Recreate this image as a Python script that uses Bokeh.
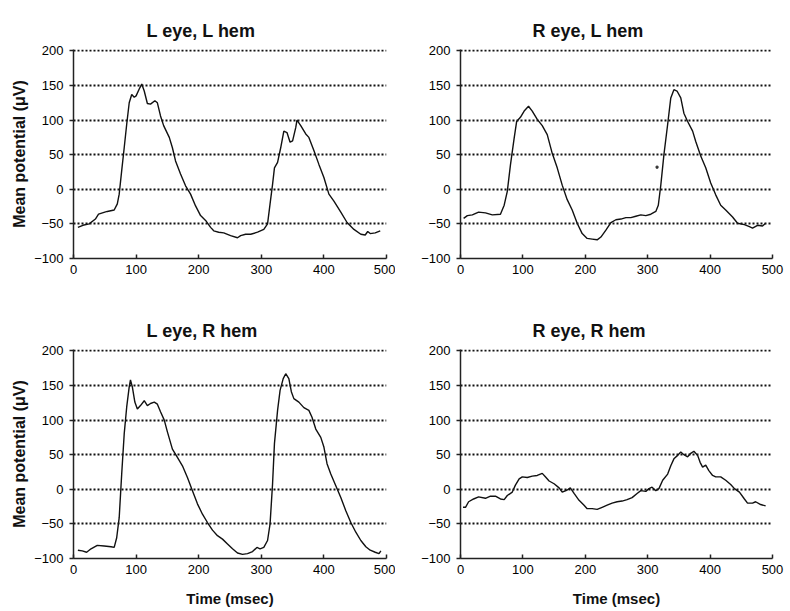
from bokeh.plotting import figure
from bokeh.layouts import column, row
from bokeh.models import Range1d, FixedTicker, LinearAxis, Title
from bokeh.embed import file_html
from bokeh.resources import INLINE

# ---- data (time in msec, mean potential in microvolts) ----
ll_t = [7, 15, 25, 35, 40, 50, 54, 65, 70, 73, 77, 81, 85, 89, 93, 97, 100, 105, 109, 113,
        118, 123, 130, 134, 139, 144, 153, 158, 163, 171, 179, 187, 195, 203, 211, 219, 224,
        232, 240, 251, 262, 267, 275, 283, 294, 304, 310, 314, 318, 321, 326, 331, 336, 341,
        346, 350, 355, 357, 363, 371, 376, 384, 392, 400, 408, 416, 427, 437, 448, 459, 466,
        470, 474, 482, 490]
ll_v = [-55, -52, -50, -43, -36, -33, -32, -30, -21, -7, 27, 60, 94, 125, 137, 133, 135, 145,
        152, 142, 124, 123, 128, 125, 106, 92, 75, 60, 41, 22, 5, -7, -24, -38, -45, -55, -60,
        -62, -63, -67, -70, -67, -65, -65, -62, -58, -50, -21, 7, 31, 39, 60, 84, 82, 68, 70,
        89, 100, 92, 80, 75, 56, 36, 17, -7, -17, -33, -48, -58, -65, -66, -61, -64, -63, -60]

rl_t = [5, 11, 19, 29, 40, 51, 64, 70, 75, 80, 86, 90, 96, 102, 109, 115, 123, 131, 139, 147,
        155, 163, 171, 179, 187, 195, 203, 211, 219, 225, 233, 241, 249, 257, 265, 273, 281,
        289, 297, 305, 313, 317, 321, 326, 332, 337, 342, 347, 353, 358, 364, 372, 377, 385,
        393, 401, 409, 417, 425, 436, 444, 455, 463, 468, 476, 484, 489]
rl_v = [-42, -38, -37, -33, -34, -37, -36, -23, -3, 35, 74, 98, 104, 113, 120, 113, 101, 92, 79,
        52, 31, 6, -15, -30, -49, -64, -71, -72, -73, -69, -59, -48, -44, -43, -41, -41, -39,
        -37, -38, -36, -32, -23, 6, 50, 94, 132, 144, 142, 132, 110, 98, 84, 69, 48, 31, 9,
        -8, -23, -30, -40, -49, -51, -54, -56, -52, -53, -49]
rl_speck_t = [315]
rl_speck_v = [32]

lr_t = [7, 14, 21, 28, 38, 49, 60, 65, 69, 73, 77, 81, 85, 89, 91, 94, 98, 102, 107, 113, 118,
        123, 129, 134, 139, 145, 150, 158, 166, 174, 182, 190, 198, 206, 214, 222, 230, 238,
        246, 254, 262, 270, 278, 286, 293, 298, 304, 310, 314, 318, 321, 326, 330, 335, 339,
        344, 348, 352, 360, 368, 376, 381, 387, 395, 400, 405, 411, 419, 427, 435, 443, 451,
        459, 467, 474, 482, 488, 491]
lr_v = [-88, -89, -91, -86, -81, -82, -83, -84, -70, -41, 22, 80, 119, 148, 158, 148, 126, 116,
        121, 128, 121, 124, 126, 123, 112, 100, 83, 58, 46, 34, 17, -2, -21, -36, -48, -59, -67,
        -72, -79, -86, -92, -94, -93, -90, -84, -86, -84, -74, -50, 8, 66, 114, 143, 160, 167,
        160, 141, 131, 126, 118, 114, 104, 87, 75, 61, 37, 22, 5, -12, -31, -48, -62, -74, -83,
        -88, -91, -93, -89]

rr_t = [4, 8, 13, 21, 29, 40, 48, 56, 64, 70, 75, 83, 88, 94, 99, 107, 115, 123, 131, 136, 142,
        150, 158, 163, 171, 176, 182, 190, 198, 203, 211, 219, 227, 235, 243, 251, 259, 267,
        275, 283, 289, 297, 302, 307, 313, 318, 324, 332, 337, 342, 348, 353, 358, 364, 369,
        374, 380, 384, 388, 393, 398, 404, 409, 417, 425, 433, 439, 447, 455, 460, 468, 473,
        481, 489]
rr_v = [-26, -26, -18, -14, -11, -13, -10, -10, -14, -15, -9, -4, 6, 15, 18, 17, 19, 20, 23, 18,
        12, 8, 2, -4, -1, 2, -6, -16, -23, -28, -28, -29, -26, -23, -20, -18, -17, -15, -12, -6,
        -2, -3, 1, 3, -2, 1, 13, 22, 34, 44, 49, 54, 50, 47, 52, 55, 49, 39, 32, 35, 27, 20, 18,
        18, 13, 7, 1, -4, -14, -20, -20, -18, -22, -24]

titles = ["L eye, L hem", "R eye, L hem", "L eye, R hem", "R eye,  R hem"]
x_ticks = [0, 100, 200, 300, 400, 500]
y_ticks = [-100, -50, 0, 50, 100, 150, 200]
grid_levels = [-50, 0, 50, 100, 150, 200]
y_label = "Mean potential (\u03bcV)"
x_label = "Time (msec)"

FONT = "Liberation Sans"


def panel(title, t, v, left_col, bottom_row):
    width = 395
    b_left = 73 if left_col else 65
    b_right = 9 if left_col else 18
    height = 311 if bottom_row else 300
    b_top = 49
    b_bottom = 53 if bottom_row else 42
    p = figure(width=width, height=height,
               x_range=Range1d(0, 500), y_range=Range1d(-100, 202),
               output_backend="svg", toolbar_location=None,
               min_border_left=b_left, min_border_right=b_right,
               min_border_top=b_top, min_border_bottom=b_bottom)
    p.outline_line_color = None
    p.background_fill_color = "white"
    p.border_fill_color = "white"
    p.title.visible = False

    xa = p.below[0]
    ya = p.left[0]

    # invisible spacer axis between frame and title (lifts the title)
    spacer = LinearAxis(ticker=FixedTicker(ticks=[]), axis_line_color=None,
                        major_tick_line_color="white", minor_tick_line_color=None,
                        major_tick_in=0, major_tick_out=9,
                        minor_tick_in=0, minor_tick_out=0,
                        major_label_standoff=0, major_label_text_color=None)
    p.add_layout(spacer, "above")

    p.add_layout(Title(text=title, align="left", offset=73 if left_col else 72,
                       text_font=FONT, text_font_size="18px", text_font_style="bold",
                       text_color="#111111", standoff=18), "above")

    p.xgrid.visible = False
    p.ygrid.ticker = FixedTicker(ticks=grid_levels)
    p.ygrid.grid_line_color = "#111111"
    p.ygrid.grid_line_width = 2
    p.ygrid.grid_line_dash = "2 2"

    xa.ticker = FixedTicker(ticks=x_ticks)
    ya.ticker = FixedTicker(ticks=y_ticks)
    for ax in (xa, ya):
        ax.axis_line_color = "#222222"
        ax.axis_line_width = 1.5
        ax.major_tick_line_color = "#222222"
        ax.major_tick_line_width = 1.5
        ax.minor_tick_line_color = None
        ax.major_label_text_font = FONT
        ax.major_label_text_font_size = "13px"
        ax.major_label_text_color = "#000000"
        ax.axis_label_text_font = FONT
        ax.axis_label_text_font_style = "bold"
        ax.axis_label_text_color = "#111111"
    xa.major_tick_in = 4
    xa.major_tick_out = 0
    xa.major_label_standoff = 6
    ya.major_tick_in = 0
    ya.major_tick_out = 4
    ya.major_label_standoff = 6

    if left_col:
        ya.axis_label = y_label
        ya.axis_label_text_font_size = "16px"
        ya.axis_label_standoff = 3
    if bottom_row:
        xa.axis_label = x_label
        xa.axis_label_text_font_size = "15px"
        xa.axis_label_standoff = 13

    p.line(t, v, line_color="#111111", line_width=1.4)
    return p


p1 = panel(titles[0], ll_t, ll_v, True, False)
p2 = panel(titles[1], rl_t, rl_v, False, False)
p2.scatter(rl_speck_t, rl_speck_v, marker="square", size=2, color="#333333")
p3 = panel(titles[2], lr_t, lr_v, True, True)
p4 = panel(titles[3], rr_t, rr_v, False, True)

layout = column(row(p1, p2, spacing=0), row(p3, p4, spacing=0), spacing=0)

open("out.html", "w").write(file_html(layout, INLINE))
